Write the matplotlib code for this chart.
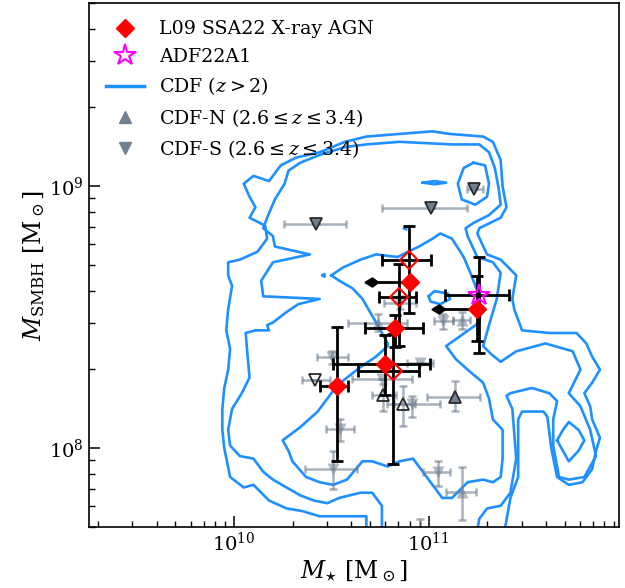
import numpy as np
import matplotlib
matplotlib.use('Agg')
import matplotlib.pyplot as plt
from matplotlib.lines import Line2D

plt.rcParams['font.family'] = ['DejaVu Serif']
plt.rcParams['mathtext.fontset'] = 'dejavuserif'
plt.rcParams['font.size'] = 14

# ---------------- data (log10 values) ----------------
# L09 SSA22 X-ray AGN, filled diamonds with errors: x, xlo, xhi, y, ylo, yhi
l09_x   = [10.527, 10.775, 10.826]
l09_xlo = [10.441, 10.507, 10.672]
l09_xhi = [10.585, 11.006, 10.970]
l09_y   = [8.236, 8.323, 8.458]
l09_ylo = [7.951, 8.203, 8.386]
l09_yhi = [8.462, 8.431, 8.507]
# L09 with stellar-mass upper limits
l09ul_x   = [10.903, 11.249]
l09ul_y   = [8.636, 8.530]
l09ul_ylo = [8.636, 8.408]
l09ul_yhi = [8.636, 8.656]
ul_arrow_dex = 0.195
# L09 alternative estimates (open diamonds)
l09o_x   = [10.900, 10.849, 10.818]
l09o_xlo = [10.761, 10.744, 10.638]
l09o_xhi = [11.011, 10.934, 10.951]
l09o_y   = [8.717, 8.576, 8.294]
l09o_ylo = [8.518, 8.389, 7.940]
l09o_yhi = [8.849, 8.702, 8.435]
# ADF22A1
adf_x, adf_xlo, adf_xhi = 11.259, 11.083, 11.412
adf_y, adf_ylo, adf_yhi = 8.585, 8.363, 8.732

# CDF-S (down triangles)
cdfs_x   = [11.232, 11.010, 10.421, 10.852, 11.074, 10.502, 10.416, 10.758, 10.955, 10.912, 10.544, 10.510, 11.049]
cdfs_xlo = [11.195, 10.758, 10.258, 10.772, 11.028, 10.424, 10.348, 10.604, 10.887, 10.784, 10.472, 10.364, 10.972]
cdfs_xhi = [11.277, 11.195, 10.573, 10.934, 11.126, 10.585, 10.493, 10.912, 11.023, 11.057, 10.616, 10.630, 11.109]
cdfs_y   = [8.990, 8.918, 8.858, 8.553, 8.485, 8.349, 8.260, 8.264, 8.327, 8.168, 8.073, 7.921, 7.908]
cdfs_ylo = [8.990, 8.918, 8.858, 8.530, 8.454, 8.320, 8.260, 8.264, 8.327, 8.118, 8.029, 7.845, 7.857]
cdfs_yhi = [8.990, 8.918, 8.858, 8.580, 8.511, 8.371, 8.260, 8.264, 8.327, 8.200, 8.111, 7.990, 7.952]
cdfs_group = ['solid', 'solid', 'solid', 'faint', 'faint', 'faint', 'open', 'faint', 'faint', 'faint', 'faint', 'faint', 'faint']

# CDF-N (up triangles)
cdfn_x   = [10.739, 11.172, 10.766, 10.869, 11.134, 11.169, 10.955]
cdfn_xlo = [10.587, 11.126, 10.710, 10.820, 10.989, 11.088, 10.900]
cdfn_xhi = [10.887, 11.211, 10.830, 10.930, 11.263, 11.242, 11.010]
cdfn_y   = [8.479, 8.490, 8.203, 8.168, 8.194, 7.832, 7.635]
cdfn_ylo = [8.448, 8.454, 8.143, 8.086, 8.143, 7.724, 7.550]
cdfn_yhi = [8.511, 8.519, 8.245, 8.238, 8.257, 7.927, 7.730]
cdfn_group = ['faint', 'faint', 'open', 'open', 'solid', 'faint', 'faint']

# CDF (z>2) density contours, traced paths in (log M*, log MBH)
cdf_level1 = [(10.68,7.60),(10.68,7.74),(10.53,7.74),(10.44,7.74),(10.35,7.76),(10.27,7.77),(10.18,7.80),
    (10.10,7.86),(10.05,7.85),(9.98,7.89),(9.95,8.00),(9.94,8.07),(9.94,8.15),(9.95,8.23),(9.97,8.30),
    (9.98,8.38),(9.96,8.45),(9.97,8.53),(9.99,8.62),(9.97,8.66),(9.97,8.71),(10.03,8.72),(10.12,8.75),
    (10.17,8.80),(10.16,8.85),(10.08,8.88),(10.11,8.92),(10.08,8.96),(10.05,9.01),(10.10,9.04),(10.18,9.02),
    (10.24,9.08),(10.32,9.11),(10.44,9.13),(10.57,9.17),(10.68,9.19),(10.85,9.20),(11.02,9.21),(11.11,9.20),
    (11.28,9.19),(11.33,9.17),(11.37,9.10),(11.38,9.00),(11.40,8.92),(11.37,8.88),(11.26,8.84),(11.25,8.82),
    (11.30,8.74),(11.37,8.72),(11.45,8.66),(11.43,8.57),(11.44,8.53),(11.48,8.45),(11.62,8.44),(11.76,8.44),
    (11.81,8.40),(11.84,8.35),(11.88,8.30),(11.84,8.25),(11.80,8.21),(11.83,8.16),(11.84,8.11),(11.88,8.04),
    (11.86,7.99),(11.84,7.92),(11.79,7.87),(11.72,7.86),(11.66,7.89),(11.63,8.00),(11.61,8.12),(11.59,8.14),
    (11.48,8.14),(11.46,8.11),(11.46,7.89),(11.42,7.81),(11.37,7.60)]
cdf_level2 = [(10.76,7.60),(10.76,7.78),(10.71,7.83),(10.65,7.83),(10.54,7.81),(10.48,7.79),(10.41,7.80),
    (10.34,7.82),(10.27,7.85),(10.20,7.88),(10.15,7.91),(10.10,7.96),(10.03,7.97),(9.98,8.01),(9.97,8.07),
    (9.99,8.15),(10.04,8.21),(10.08,8.27),(10.07,8.35),(10.06,8.44),(10.11,8.45),(10.18,8.45),(10.17,8.47),
    (10.20,8.48),(10.27,8.52),(10.33,8.55),(10.44,8.57),(10.15,8.58),(10.14,8.64),
    (10.20,8.71),(10.39,8.74),(10.21,8.77),(10.20,8.81),(10.15,8.84),(10.17,8.88),(10.21,8.95),(10.26,9.01),
    (10.28,9.06),(10.34,9.09),(10.44,9.12),(10.57,9.15),(10.68,9.16),(10.85,9.17),(11.12,9.16),(11.26,9.16),
    (11.31,9.13),(11.34,9.07),(11.36,8.99),(11.37,8.93),(11.31,8.89),(11.23,8.86),(11.19,8.84),(11.20,8.81),
    (11.25,8.73),(11.33,8.71),(11.37,8.67),(11.35,8.57),(11.31,8.47),(11.28,8.39),(11.32,8.36),(11.37,8.33),
    (11.45,8.37),(11.60,8.40),(11.74,8.37),(11.78,8.30),(11.72,8.21),(11.78,8.16),(11.83,8.07),(11.86,7.97),
    (11.80,7.89),(11.72,7.88),(11.67,7.89),(11.64,8.01),(11.64,8.11),(11.66,8.18),(11.62,8.21),(11.53,8.23),
    (11.42,8.21),(11.40,8.20),(11.43,8.15),(11.45,7.96),(11.42,7.83),(11.37,7.78),(11.30,7.77),(11.26,7.73),
    (11.23,7.60)]
cdf_level3 = [(10.50,8.66),(10.56,8.69),(10.65,8.72),(10.73,8.74),(10.84,8.73),(10.95,8.77),(11.02,8.80),
    (11.06,8.82),(11.12,8.80),(11.18,8.73),(11.22,8.66),(11.25,8.60),(11.27,8.53),(11.26,8.48),(11.09,8.39),
    (11.14,8.34),(11.20,8.30),(11.28,8.25),(11.31,8.19),(11.33,8.11),(11.38,8.07),(11.38,7.96),(11.37,7.89),
    (11.33,7.87),(11.28,7.88),(11.20,7.87),(11.12,7.81),(11.07,7.81),(11.02,7.86),(10.92,7.96),(10.85,7.95),
    (10.79,7.93),(10.71,7.95),(10.66,7.95),(10.58,7.88),(10.51,7.86),(10.44,7.87),(10.37,7.89),(10.30,7.95),
    (10.28,7.99),(10.25,8.03),(10.34,8.08),(10.43,8.14),(10.53,8.24),(10.65,8.31),(10.73,8.35),(10.79,8.39),
    (10.79,8.40),(10.73,8.48),(10.66,8.57),(10.61,8.61),(10.54,8.64),(10.50,8.66)]
cdf_islands = [
    [(11.23,9.09),(11.29,9.08),(11.31,9.01),(11.30,8.96),(11.24,8.93),(11.17,8.95),(11.15,9.01),(11.18,9.07),(11.23,9.09)],
    [(10.97,9.014),(11.03,9.02),(11.09,9.014),(11.03,9.008),(10.97,9.014)],
    [(10.875,8.84),(10.885,8.845),(10.885,8.835),(10.875,8.84)],
    [(10.455,8.66),(10.465,8.665),(10.465,8.655),(10.455,8.66)],
    [(11.00,8.58),(11.03,8.60),(11.10,8.59),(11.11,8.57),(11.06,8.55),(11.01,8.56),(11.00,8.58)],
    [(11.66,8.03),(11.69,8.07),(11.72,8.10),(11.77,8.07),(11.80,8.03),(11.77,7.99),(11.72,7.95),(11.69,7.99),(11.66,8.03)],
]

# ---------------- styles ----------------
blue = '#1E90FF'
slate = '#708090'
dark = '#2a2a2a'

fig = plt.figure(figsize=(6.25, 5.88), dpi=100)
ax = fig.add_axes([0.1424, 0.1037, 0.8480, 0.8907])
ax.set_xscale('log')
ax.set_yscale('log')

def P(a):
    return 10.0 ** np.asarray(a, dtype=float)

def errs(v, lo, hi):
    v, lo, hi = np.asarray(v, float), np.asarray(lo, float), np.asarray(hi, float)
    return np.vstack([10**v - 10**lo, 10**hi - 10**v])

# contours
for path in [cdf_level1, cdf_level2, cdf_level3] + cdf_islands:
    arr = np.array(path)
    ax.plot(P(arr[:, 0]), P(arr[:, 1]), color=blue, lw=1.9, zorder=1, solid_joinstyle='round')

# gray CDF points
def gray_points(xs, xlo, xhi, ys, ylo, yhi, groups, marker):
    xs, ys = np.array(xs), np.array(ys)
    ax.errorbar(P(xs), P(ys), xerr=errs(xs, xlo, xhi), yerr=errs(ys, ylo, yhi),
                fmt='none', ecolor=slate, alpha=0.6, elinewidth=1.8, capsize=3, capthick=1.8, zorder=2)
    g = np.array(groups)
    m = g == 'faint'
    ax.plot(P(xs[m]), P(ys[m]), ls='none', marker=marker, ms=9, mfc=slate, mec='none', alpha=0.55, zorder=3)
    m = g == 'solid'
    ax.plot(P(xs[m]), P(ys[m]), ls='none', marker=marker, ms=9, mfc=slate, mec=dark, mew=1.3, zorder=3)
    m = g == 'open'
    ax.plot(P(xs[m]), P(ys[m]), ls='none', marker=marker, ms=9, mfc='none', mec=dark, mew=1.3, zorder=3)

gray_points(cdfs_x, cdfs_xlo, cdfs_xhi, cdfs_y, cdfs_ylo, cdfs_yhi, cdfs_group, 'v')
gray_points(cdfn_x, cdfn_xlo, cdfn_xhi, cdfn_y, cdfn_ylo, cdfn_yhi, cdfn_group, '^')

# L09 black error bars
ekw = dict(fmt='none', ecolor='black', elinewidth=2.0, capsize=4, capthick=2.0, zorder=4)
ax.errorbar(P(l09_x), P(l09_y), xerr=errs(l09_x, l09_xlo, l09_xhi), yerr=errs(l09_y, l09_ylo, l09_yhi), **ekw)
ax.errorbar(P(l09o_x), P(l09o_y), xerr=errs(l09o_x, l09o_xlo, l09o_xhi), yerr=errs(l09o_y, l09o_ylo, l09o_yhi), **ekw)
ax.errorbar(P(l09ul_x), P(l09ul_y), yerr=errs(l09ul_y, l09ul_ylo, l09ul_yhi), **ekw)
ax.errorbar(P([adf_x]), P([adf_y]), xerr=errs([adf_x], [adf_xlo], [adf_xhi]),
            yerr=errs([adf_y], [adf_ylo], [adf_yhi]), **ekw)
# upper-limit arrows
for xv, yv in zip(l09ul_x, l09ul_y):
    ax.plot(P([xv, xv - ul_arrow_dex]), P([yv, yv]), color='black', lw=2.0, zorder=4)
    ax.plot(P([xv - ul_arrow_dex]), P([yv]), marker=[(-1, 0), (0, 0.6), (0.8, 0), (0, -0.6), (-1, 0)],
            ms=11, color='black', ls='none', zorder=4)

ax.plot(P(l09_x + l09ul_x), P(l09_y + l09ul_y), ls='none', marker='D', ms=9, color='red', mec='red', zorder=5)
ax.plot(P(l09o_x), P(l09o_y), ls='none', marker='D', ms=9, mfc='none', mec='red', mew=1.5, zorder=5)
ax.plot(P([adf_x]), P([adf_y]), ls='none', marker='*', ms=16, mfc='none', mec='magenta', mew=1.5, zorder=6)

# axes
ax.set_xlim(10**9.255, 10**11.978)
ax.set_ylim(5e7, 5e9)
ax.tick_params(which='both', direction='in', top=False, right=False)
ax.tick_params(which='major', length=8, width=1.1, labelsize=14)
ax.tick_params(which='minor', length=4.3, width=1.0)
for s in ax.spines.values():
    s.set_linewidth(1.2)
ax.set_xlabel(r'$M_{\star}\ [\mathrm{M}_\odot]$', fontsize=17, labelpad=2)
ax.set_ylabel(r'$M_{\mathrm{SMBH}}\ [\mathrm{M}_\odot]$', fontsize=17, labelpad=2)

handles = [
    Line2D([], [], ls='none', marker='D', ms=9, color='red'),
    Line2D([], [], ls='none', marker='*', ms=16, mfc='none', mec='magenta', mew=1.5),
    Line2D([], [], color=blue, lw=2.5),
    Line2D([], [], ls='none', marker='^', ms=9, color=slate),
    Line2D([], [], ls='none', marker='v', ms=9, color=slate),
]
labels = ['L09 SSA22 X-ray AGN', 'ADF22A1', r'CDF ($z>2$)',
          r'CDF-N ($2.6\leq z\leq 3.4$)', r'CDF-S ($2.6\leq z\leq 3.4$)']
ax.legend(handles, labels, loc='upper left', frameon=False, fontsize=13.7, labelspacing=0.5)

fig.savefig('out.png', dpi=100)
